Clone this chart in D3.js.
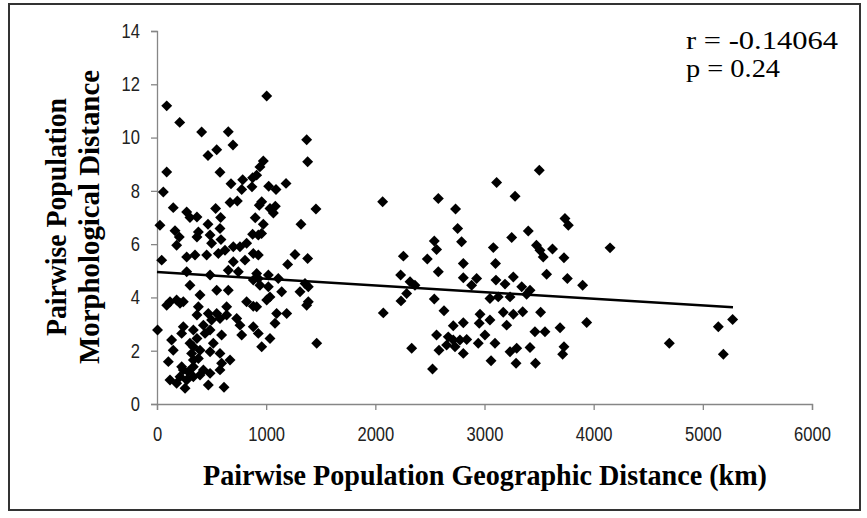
<!DOCTYPE html>
<html>
<head>
<meta charset="utf-8">
<script src="https://cdn.jsdelivr.net/npm/d3@7"></script>
<style>
	body { margin: 0; background: #fff; }
</style>
</head>
<body>
<svg class="scatter"></svg>
<script>
// geographic distance (km) of each population pair
const distKm = [
	89, 208, 409, 653, 696, 547, 467, 89, 577, 58, 678, 785, 776, 870, 913,
	1005, 1371, 1380, 974, 943, 876, 1023, 1090, 1182, 1456, 1319, 1084, 1066, 1035, 937,
	974, 900, 876, 669, 736, 537, 583, 577, 586, 467, 486, 379, 366, 302, 272,
	149, 27, 165, 204, 180, 500, 699, 760, 821, 958, 366, 928, 43, 272, 348,
	455, 562, 623, 699, 806, 882, 272, 486, 653, 745, 882, 302, 547, 653, 119,
	394, 241, 821, 959, 928, 1264, 1380, 1197, 1020, 1111, 928, 1020, 1356, 1386, 1142,
	1310, 1035, 1386, 180, 500, 913, 547, 913, 943, 5, 89, 211, 379, 638, 882,
	1005, 1371, 1096, 1188, 1081, 577, 638, 470, 366, 730, 760, 882, 928, 776, 1035,
	959, 1463, 241, 226, 333, 425, 486, 440, 592, 134, 149, 333, 394, 516, 577,
	486, 104, 333, 592, 669, 226, 333, 425, 577, 119, 211, 272, 333, 394, 486,
	180, 257, 470, 614, 302, 366, 317, 379, 241, 287,
	2067, 2577, 3111, 3502, 3280, 2735, 2754, 2790, 3737, 3768, 3401, 3249, 2540, 2561, 3081,
	3476, 3508, 3538, 3623, 3728, 2257, 2476, 2806, 3101, 2577, 2232, 2806, 2928, 3105, 3264,
	3569, 3759, 2318, 2363, 2882, 3188, 3341, 3417, 2287, 3050, 3126, 3234, 3386, 2235, 2540,
	2073, 2629, 2959, 3050, 3172, 3264, 3350, 3514, 2714, 2806, 2952, 3203, 3692, 2561, 2668,
	2714, 2775, 2837, 2943, 3004, 3096, 3462, 3554, 2653, 2730, 2583, 2333, 2806, 3234, 3295,
	3417, 3728, 3716, 3060, 3289, 3467, 2524, 4150, 3899, 3936, 4693, 5142, 5273, 5188
];

// morphological distance of the same pairs
const morphDist = [
	11.19, 10.57, 10.21, 10.22, 9.72, 9.54, 9.33, 8.71, 8.70, 7.96, 8.27, 8.42, 8.05, 8.15, 8.59,
	11.56, 9.92, 9.09, 9.12, 8.90, 8.49, 8.17, 8.05, 8.28, 7.32, 6.75, 7.42, 7.17, 7.34, 7.46,
	6.75, 6.99, 6.37, 7.56, 7.62, 7.34, 7.00, 6.59, 6.17, 6.75, 6.34, 6.46, 7.02, 7.00, 7.21,
	7.37, 6.71, 6.50, 6.27, 5.96, 6.03, 5.90, 5.90, 6.03, 6.40, 6.27, 6.34, 5.40, 5.52, 5.59,
	5.59, 5.65, 5.77, 5.34, 5.40, 5.65, 4.96, 4.84, 5.02, 4.96, 4.65, 4.46, 4.27, 4.27, 3.84,
	4.09, 3.84, 3.84, 7.59, 5.59, 5.61, 5.46, 5.24, 4.84, 4.71, 4.71, 4.40, 4.52, 4.40, 4.21,
	4.21, 4.02, 3.84, 3.90, 3.15, 3.65, 3.40, 4.90, 4.46, 2.78, 3.71, 3.78, 3.65, 3.65, 3.67,
	3.90, 3.71, 3.40, 3.40, 3.03, 3.21, 3.34, 3.40, 3.34, 3.21, 2.96, 2.90, 2.65, 2.59, 2.46,
	2.15, 2.28, 2.90, 2.65, 2.78, 2.96, 2.78, 2.65, 2.59, 2.40, 2.02, 2.15, 2.02, 2.28, 1.90,
	1.96, 1.59, 1.65, 1.53, 1.65, 1.40, 1.40, 1.28, 1.28, 0.90, 1.02, 0.90, 1.02, 1.09, 1.15,
	0.78, 0.59, 0.71, 0.63, 2.28, 2.46, 1.90, 1.71, 1.28, 1.21,
	7.59, 7.71, 8.31, 8.77, 7.80, 7.32, 6.59, 6.09, 6.96, 6.71, 6.49, 6.25, 6.12, 5.80, 5.87,
	5.96, 5.77, 5.52, 5.82, 5.49, 5.55, 5.44, 5.27, 5.27, 4.96, 4.84, 4.74, 4.71, 4.65, 4.77,
	4.87, 4.71, 4.59, 4.46, 4.46, 4.50, 4.40, 4.27, 4.15, 3.96, 4.02, 4.02, 4.12, 3.87, 3.94,
	3.42, 3.50, 3.37, 3.15, 3.44, 3.37, 3.46, 3.44, 2.94, 3.05, 3.03, 2.96, 2.86, 2.59, 2.52,
	2.40, 2.40, 2.42, 2.28, 2.59, 2.28, 2.71, 2.71, 2.21, 2.15, 2.02, 2.09, 1.90, 1.96, 2.09,
	2.12, 2.15, 1.87, 1.62, 1.53, 1.53, 1.31, 5.86, 4.46, 3.06, 2.28, 2.90, 3.17, 1.87
];

// fitted trend line ends
const trendX = [0, 5276];
const trendY = [4.95, 3.63];

const xTicks = [0, 1000, 2000, 3000, 4000, 5000, 6000];
const yTicks = [0, 2, 4, 6, 8, 10, 12, 14];
const statLines = ['r = -0.14064', 'p = 0.24'];

const svg = d3.select('.scatter')
	.attr('width', 867)
	.attr('height', 518);

const render = data => {
	const margin = { top: 31, left: 157 };
	const innerWidth = 655;
	const innerHeight = 373;
	const axisColor = '#868686';

	svg.append('rect')
		.attr('x', 9).attr('y', 4)
		.attr('width', 851).attr('height', 506)
		.attr('fill', '#fff')
		.attr('stroke', '#333')
		.attr('stroke-width', 2);

	const xScale = d3.scaleLinear()
		.domain([0, 6000])
		.range([0, innerWidth]);

	const yScale = d3.scaleLinear()
		.domain([0, 14])
		.range([innerHeight, 0]);

	const g = svg.append('g')
		.attr('transform', `translate(${margin.left}, ${margin.top})`);

	const yAxisG = g.append('g')
		.call(d3.axisLeft(yScale).tickValues(yTicks).tickFormat(d3.format('d'))
			.tickSize(6).tickPadding(11));
	const xAxisG = g.append('g')
		.attr('transform', `translate(0, ${innerHeight})`)
		.call(d3.axisBottom(xScale).tickValues(xTicks).tickFormat(d3.format('d'))
			.tickSize(6).tickPadding(17));

	[xAxisG, yAxisG].forEach(a => {
		a.select('.domain').attr('stroke', axisColor).attr('stroke-width', 1.3);
		a.selectAll('.tick line').attr('stroke', axisColor).attr('stroke-width', 1.3);
		// narrow digits, like the original's Calibri labels
		a.selectAll('.tick text')
			.attr('fill', '#222')
			.attr('textLength', function() { return this.textContent.length * 9.2; })
			.attr('lengthAdjust', 'spacingAndGlyphs')
			.style('font-family', '"Liberation Sans", Arial, sans-serif')
			.style('font-size', '20px');
	});

	g.selectAll('path.pt')
		.data(data)
		.enter()
		.append('path')
			.attr('class', 'pt')
			.attr('d', d3.symbol().type(d3.symbolSquare).size(60))
			.attr('transform', d => `translate(${xScale(d.x)}, ${yScale(d.y)}) rotate(45)`)
			.attr('fill', '#000');

	g.append('line')
		.attr('x1', xScale(trendX[0])).attr('y1', yScale(trendY[0]))
		.attr('x2', xScale(trendX[1])).attr('y2', yScale(trendY[1]))
		.attr('stroke', '#000')
		.attr('stroke-width', 2.5);

	const titleFont = '"Liberation Serif", "Times New Roman", serif';

	svg.append('text')
		.attr('x', 485).attr('y', 485)
		.attr('text-anchor', 'middle')
		.attr('textLength', 564)
		.attr('lengthAdjust', 'spacingAndGlyphs')
		.style('font-family', titleFont)
		.style('font-weight', 'bold')
		.style('font-size', '30px')
		.text('Pairwise Population Geographic Distance (km)');

	const yTitle = svg.append('g')
		.attr('transform', 'translate(0, 217) rotate(-90)');
	[['Pairwise Population', 66, 238], ['Morphological Distance', 99, 294]].forEach(([t, x, len]) => {
		yTitle.append('text')
			.attr('x', 0).attr('y', x)
			.attr('text-anchor', 'middle')
			.attr('textLength', len)
			.attr('lengthAdjust', 'spacingAndGlyphs')
			.style('font-family', titleFont)
			.style('font-weight', 'bold')
			.style('font-size', '30px')
			.text(t);
	});

	svg.selectAll('text.stat')
		.data(statLines)
		.enter()
		.append('text')
			.attr('class', 'stat')
			.attr('x', 686)
			.attr('y', (d, i) => 49 + i * 28)
			.attr('textLength', (d, i) => [152, 94][i])
			.attr('lengthAdjust', 'spacingAndGlyphs')
			.style('font-family', titleFont)
			.style('font-size', '25px')
			.text(d => d);
};

const data = distKm.map((x, i) => ({ x, y: morphDist[i] }));
render(data);
</script>
</body>
</html>
